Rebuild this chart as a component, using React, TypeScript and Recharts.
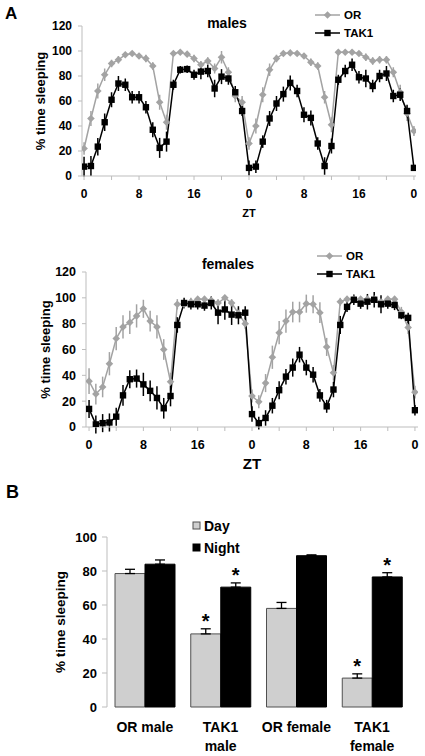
import React from 'react';
import {
    LineChart,
    Line,
    BarChart,
    Bar,
    XAxis,
    YAxis,
    ErrorBar,
    LabelList,
} from 'recharts';

const FONT = '"Liberation Sans", Arial, sans-serif';
const OR_GREY = '#a3a3a3';
const AXIS_GREY = '#bdbdbd';

// ZT of every hourly bin over the two recorded days
const ZT = [0, 1, 2, 3, 4, 5, 6, 7, 8, 9, 10, 11, 12, 13, 14, 15, 16, 17, 18, 19, 20, 21, 22, 23,
    0, 1, 2, 3, 4, 5, 6, 7, 8, 9, 10, 11, 12, 13, 14, 15, 16, 17, 18, 19, 20, 21, 22, 23, 0];
const HOUR_TICKS = [0, 4, 8, 12, 16, 20, 24, 28, 32, 36, 40, 44, 48];
const SLEEP_TICKS = [0, 20, 40, 60, 80, 100, 120];
const SERIES = ['OR', 'TAK1'];

// males, % time sleeping
const maleOR = [22, 46, 68, 81, 90, 93, 97, 98, 96, 94, 88, 59, 43,
    98, 99, 97.5, 94, 89, 92, 86, 95, 83, 64, 59,
    26, 40, 65, 85, 94, 98, 98.5, 98, 96, 91, 88, 63, 41,
    99, 99, 99, 98, 95, 92, 93, 93, 83, 67, 50, 36];
const maleORErr = [5, 6, 6, 5, 3, 3, 2, 2, 2, 3, 3, 6, 6,
    2, 2, 2, 3, 3, 3, 4, 5, 4, 5, 5,
    5, 6, 6, 5, 3, 2, 2, 2, 2, 3, 3, 5, 6,
    2, 2, 2, 2, 3, 3, 3, 3, 4, 6, 6, 4];
const maleTAK = [7.5, 8, 23.5, 43, 61, 74, 73, 63, 63, 55, 37, 22.5, 27.5,
    73, 85, 85.5, 81, 83.5, 84, 70, 79.5, 78, 67, 52,
    6.5, 7.5, 27.5, 46, 58, 65.5, 74.5, 68, 49, 46.5, 26, 8, 24,
    77, 84, 89, 79, 78, 72, 80, 82, 64, 65, 52, 6.5];
const maleTAKErr = [8, 8, 7, 7, 6, 6, 5, 5, 5, 5, 6, 8, 8,
    4, 3, 3, 4, 6, 5, 7, 6, 5, 5, 4,
    6, 5, 5, 6, 6, 6, 6, 5, 6, 6, 5, 7, 6,
    4, 5, 5, 5, 7, 5, 5, 6, 5, 5, 5, 2];

// females, % time sleeping
const femaleOR = [35.5, 25.5, 31, 49, 68.5, 77.5, 81, 86, 91.5, 82, 77.5, 60, 35,
    95, 95, 97, 99, 99, 98, 96, 100, 96, 88, 80,
    24, 19.5, 34, 54, 73, 82, 89, 89, 95.5, 95, 88.5, 62, 42,
    97, 99, 99, 99, 99, 99, 97, 99, 99, 89, 77, 27];
const femaleORErr = [10, 8, 8, 9, 9, 9, 9, 9, 7, 8, 9, 8, 7,
    4, 3, 3, 2, 2, 3, 3, 2, 3, 4, 4,
    5, 5, 7, 9, 9, 9, 8, 8, 7, 7, 8, 7, 6,
    3, 2, 2, 2, 2, 2, 3, 2, 2, 4, 5, 5];
const femaleTAK = [14, 2, 3, 3.5, 8, 24.5, 37, 37.5, 33, 28, 22.5, 14.5, 24,
    79, 96, 95, 95, 94, 96, 88.5, 91, 87, 86.5, 88.5,
    10, 3, 7, 16.5, 28.5, 39, 46, 56, 46, 40.5, 24.5, 16, 29,
    79, 93, 98.5, 95.5, 97, 98.5, 95, 95.5, 94.5, 86.5, 84.5, 13];
const femaleTAKErr = [7, 7, 7, 7, 7, 8, 7, 7, 9, 8, 9, 8, 8,
    6, 4, 4, 4, 4, 5, 9, 8, 8, 7, 5,
    6, 5, 6, 6, 7, 6, 7, 6, 6, 6, 5, 5, 6,
    7, 4, 4, 4, 6, 6, 7, 4, 4, 3, 4, 4];

// panel B: day / night sleep per group
const groups = ['OR male', 'TAK1\nmale', 'OR female', 'TAK1\nfemale'];
const dayMean = [78.5, 43, 58, 17];
const dayErr = [2.5, 3, 3.5, 2.5];
const nightMean = [84, 70.5, 89, 76.5];
const nightErr = [2.5, 2.5, 0.5, 2.5];
const daySig = ['', '*', '', '*'];
const nightSig = ['', '*', '', '*'];
const BAR_TICKS = [0, 20, 40, 60, 80, 100];
const BAR_SERIES = ['Day', 'Night'];

const buildRows = (or: number[], orErr: number[], tak: number[], takErr: number[]) =>
    ZT.map((h, i) => ({ i, zt: h, or: or[i], orErr: orErr[i], tak: tak[i], takErr: takErr[i] }));

const maleRows = buildRows(maleOR, maleORErr, maleTAK, maleTAKErr);
const femaleRows = buildRows(femaleOR, femaleORErr, femaleTAK, femaleTAKErr);

const barRows = groups.map((g, i) => ({
    group: g,
    day: dayMean[i],
    dayRange: [0, dayErr[i]],
    daySig: daySig[i],
    night: nightMean[i],
    nightRange: [0, nightErr[i]],
    nightSig: nightSig[i],
}));

const renderDiamond = (props: any) => {
    const { cx, cy, index } = props;
    if (cx == null || cy == null) return <g key={`d${index}`} />;
    const r = 3.8;
    return (
        <polygon
            key={`d${index}`}
            points={`${cx},${cy - r} ${cx + r},${cy} ${cx},${cy + r} ${cx - r},${cy}`}
            fill={OR_GREY}
        />
    );
};

const renderSquare = (props: any) => {
    const { cx, cy, index } = props;
    if (cx == null || cy == null) return <g key={`s${index}`} />;
    return <rect key={`s${index}`} x={cx - 3.2} y={cy - 3.2} width={6.4} height={6.4} fill="#000" />;
};

interface TimeChartProps {
    rows: any[];
    top: number;
    height: number;
    plotTop: number;
    plotBottom: number;
    plotLeft: number;
    plotRight: number;
    domain: [number, number];
    tickFont: number;
    tickMargin: number;
    ztFont: number;
    ztOffset: number;
    yLabelX: number;
}

// one of the two hourly sleep profiles (panel A)
const TimeChart = (p: TimeChartProps) => {
    const textStyle = { fill: '#000', fontSize: p.tickFont, fontWeight: 700, fontFamily: FONT };
    return (
        <div style={{ position: 'absolute', left: 0, top: p.top }}>
            <LineChart
                width={425}
                height={p.height}
                data={p.rows}
                margin={{ top: p.plotTop, right: 425 - p.plotRight, left: 0, bottom: 4 }}
            >
                <XAxis
                    dataKey="i"
                    type="number"
                    domain={p.domain}
                    allowDataOverflow
                    ticks={HOUR_TICKS}
                    interval={0}
                    tickFormatter={(v: number) => (v % 8 === 0 ? String(ZT[v]) : '')}
                    tickSize={4}
                    tickMargin={p.tickMargin}
                    height={p.height - p.plotBottom - 4}
                    stroke={AXIS_GREY}
                    tick={textStyle}
                    label={{
                        value: 'ZT',
                        position: 'insideBottom',
                        offset: p.ztOffset,
                        fill: '#000',
                        style: { fontSize: p.ztFont, fontWeight: 700, fontFamily: FONT, fill: '#000' },
                    }}
                />
                <YAxis
                    type="number"
                    domain={[0, 120]}
                    allowDataOverflow
                    ticks={SLEEP_TICKS}
                    interval={0}
                    width={p.plotLeft}
                    tickSize={4}
                    tickMargin={6}
                    stroke={AXIS_GREY}
                    tick={textStyle}
                    label={{
                        value: '% time sleeping',
                        angle: -90,
                        position: 'insideLeft',
                        offset: p.yLabelX,
                        fill: '#000',
                        style: { textAnchor: 'middle', fontSize: 13, fontWeight: 700, fontFamily: FONT, fill: '#000' },
                    }}
                />
                <Line
                    type="linear"
                    dataKey="or"
                    name={SERIES[0]}
                    stroke={OR_GREY}
                    strokeWidth={1.5}
                    dot={renderDiamond}
                    activeDot={false}
                    isAnimationActive={false}
                >
                    <ErrorBar dataKey="orErr" direction="y" width={0} stroke={OR_GREY} strokeWidth={1.5} />
                </Line>
                <Line
                    type="linear"
                    dataKey="tak"
                    name={SERIES[1]}
                    stroke="#000"
                    strokeWidth={1.5}
                    dot={renderSquare}
                    activeDot={false}
                    isAnimationActive={false}
                >
                    <ErrorBar dataKey="takErr" direction="y" width={0} stroke="#000" strokeWidth={1.5} />
                </Line>
            </LineChart>
        </div>
    );
};

// legend for the line panels: grey diamond line and black square line
const LineKey = ({ x, y, gap }: { x: number; y: number; gap: number }) => (
    <g>
        {SERIES.map((name, k) => {
            const cy = y + k * gap;
            const mid = x + 12.5;
            return (
                <g key={name}>
                    <line x1={x} x2={x + 25} y1={cy} y2={cy} stroke={k === 0 ? OR_GREY : '#000'} strokeWidth={1.5} />
                    {k === 0 ? (
                        <polygon points={`${mid},${cy - 3.8} ${mid + 3.8},${cy} ${mid},${cy + 3.8} ${mid - 3.8},${cy}`} fill={OR_GREY} />
                    ) : (
                        <rect x={mid - 3.2} y={cy - 3.2} width={6.4} height={6.4} fill="#000" />
                    )}
                    <text x={x + 29} y={cy + 4} fontSize={11.5} fontWeight={700} fontFamily={FONT}>{name}</text>
                </g>
            );
        })}
    </g>
);

const GroupTick = (props: any) => {
    const { x, y, payload } = props;
    const lines = String(payload.value).split('\n');
    return (
        <text x={x} y={y} textAnchor="middle" fontSize={14} fontWeight={700} fontFamily={FONT} fill="#000">
            {lines.map((l, k) => (
                <tspan key={k} x={x} dy={k === 0 ? 12 : 18.5}>{l}</tspan>
            ))}
        </text>
    );
};

// asterisk above the error bar of significant bars
const makeStar = (means: number[], errs: number[]) => (props: any) => {
    const { x, y, width, height, value, index } = props;
    if (value !== '*') return null;
    const perUnit = height / means[index];
    const top = y - errs[index] * perUnit;
    return (
        <text x={x + width / 2} y={top - 1} textAnchor="middle" fontSize={20} fontWeight={700} fontFamily={FONT} fill="#000">
            *
        </text>
    );
};

const DayNightChart = () => {
    const textStyle = { fill: '#000', fontSize: 13, fontWeight: 700, fontFamily: FONT };
    return (
        <div style={{ position: 'absolute', left: 0, top: 500 }}>
            <BarChart
                width={425}
                height={256}
                data={barRows}
                margin={{ top: 37, right: 15, left: 0, bottom: 4 }}
                barCategoryGap={8}
                barGap={0}
            >
                <XAxis
                    xAxisId="edges"
                    type="number"
                    domain={[0, 4]}
                    ticks={[0, 1, 2, 3, 4]}
                    tick={false}
                    tickSize={5}
                    height={0}
                    stroke={AXIS_GREY}
                />
                <XAxis
                    xAxisId="cat"
                    dataKey="group"
                    interval={0}
                    axisLine={false}
                    tickLine={false}
                    tickSize={0}
                    tickMargin={13}
                    height={45}
                    tick={GroupTick}
                />
                <YAxis
                    domain={[0, 100]}
                    ticks={BAR_TICKS}
                    interval={0}
                    width={107}
                    tickSize={5}
                    tickMargin={5}
                    stroke={AXIS_GREY}
                    tick={textStyle}
                    label={{
                        value: '% time sleeping',
                        angle: -90,
                        position: 'insideLeft',
                        offset: 60,
                        fill: '#000',
                        style: { textAnchor: 'middle', fontSize: 13.5, fontWeight: 700, fontFamily: FONT, fill: '#000' },
                    }}
                />
                <Bar xAxisId="cat" dataKey="day" name={BAR_SERIES[0]} fill="#cfcfcf" stroke="#505050" strokeWidth={1} isAnimationActive={false}>
                    <ErrorBar dataKey="dayRange" direction="y" width={5} stroke="#000" strokeWidth={1.3} />
                    <LabelList dataKey="daySig" content={makeStar(dayMean, dayErr)} />
                </Bar>
                <Bar xAxisId="cat" dataKey="night" name={BAR_SERIES[1]} fill="#000" stroke="#000" strokeWidth={1} isAnimationActive={false}>
                    <ErrorBar dataKey="nightRange" direction="y" width={5} stroke="#000" strokeWidth={1.3} />
                    <LabelList dataKey="nightSig" content={makeStar(nightMean, nightErr)} />
                </Bar>
            </BarChart>
        </div>
    );
};

const App = () => {
    return (
        <div style={{ position: 'absolute', left: 0, top: 0, width: 425, height: 756, background: '#fff', fontFamily: FONT }}>
            <TimeChart
                rows={maleRows}
                top={0}
                height={225}
                plotTop={26}
                plotBottom={176}
                plotLeft={82}
                plotRight={416}
                domain={[-0.3, 48.3]}
                tickFont={12}
                tickMargin={9}
                ztFont={11}
                ztOffset={4}
                yLabelX={40}
            />
            <TimeChart
                rows={femaleRows}
                top={240}
                height={235}
                plotTop={32}
                plotBottom={187}
                plotLeft={86}
                plotRight={418}
                domain={[-0.45, 48.45]}
                tickFont={12.5}
                tickMargin={9.5}
                ztFont={15}
                ztOffset={2.5}
                yLabelX={45}
            />
            <DayNightChart />
            <svg
                width={425}
                height={756}
                style={{ position: 'absolute', left: 0, top: 0, pointerEvents: 'none' }}
            >
                <text x={5} y={19} fontSize={17} fontWeight={700} fontFamily={FONT}>A</text>
                <text x={6} y={498} fontSize={18} fontWeight={700} fontFamily={FONT}>B</text>
                <text x={227} y={28} textAnchor="middle" fontSize={14} fontWeight={700} fontFamily={FONT}>males</text>
                <text x={228} y={269} textAnchor="middle" fontSize={14} fontWeight={700} fontFamily={FONT}>females</text>
                <LineKey x={315} y={15} gap={18} />
                <LineKey x={317} y={256} gap={18} />
                {BAR_SERIES.map((name, k) => (
                    <g key={name}>
                        <rect
                            x={193}
                            y={522 + k * 22}
                            width={7}
                            height={7}
                            fill={k === 0 ? '#cfcfcf' : '#000'}
                            stroke={k === 0 ? '#505050' : '#000'}
                        />
                        <text x={204} y={531 + k * 22} fontSize={14} fontWeight={700} fontFamily={FONT}>{name}</text>
                    </g>
                ))}
            </svg>
        </div>
    );
};

export default App;
